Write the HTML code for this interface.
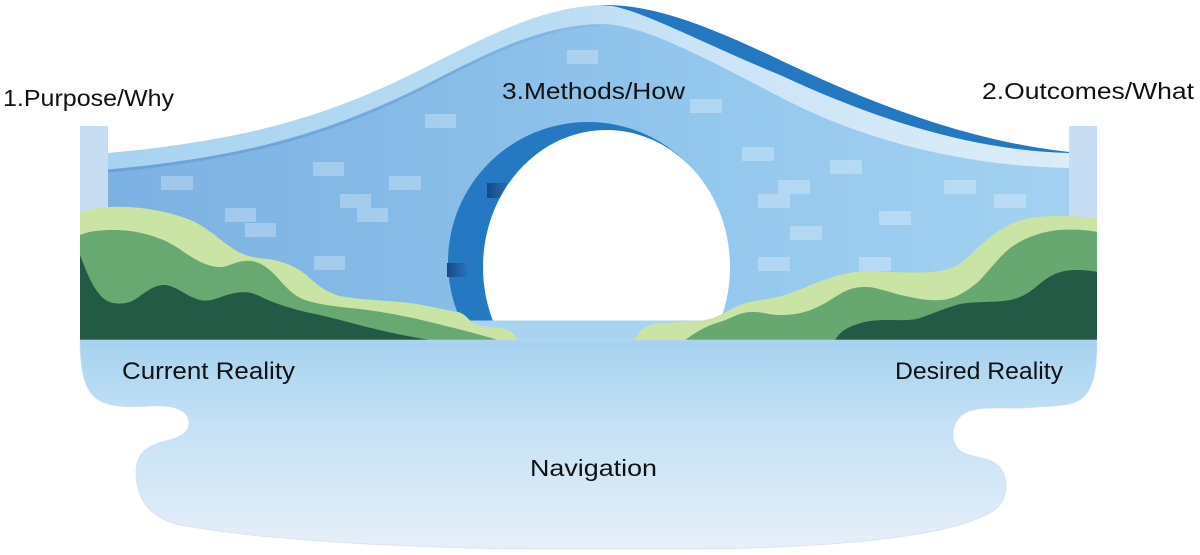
<!DOCTYPE html>
<html>
<head>
<meta charset="utf-8">
<style>
  html, body { margin: 0; padding: 0; background: #ffffff; }
  svg { display: block; }
  text { font-family: "Liberation Sans", "DejaVu Sans", sans-serif; fill: #111111; }
</style>
</head>
<body>
<svg width="1200" height="555" viewBox="0 0 1200 555" xmlns="http://www.w3.org/2000/svg">
  <defs>
    <linearGradient id="bodyG" x1="108" y1="0" x2="1069" y2="0" gradientUnits="userSpaceOnUse">
      <stop offset="0" stop-color="#7cb1e2"/>
      <stop offset="0.36" stop-color="#88bde8"/>
      <stop offset="0.62" stop-color="#94c7ed"/>
      <stop offset="1" stop-color="#a3d2f1"/>
    </linearGradient>
    <linearGradient id="bandG" x1="108" y1="0" x2="1069" y2="0" gradientUnits="userSpaceOnUse">
      <stop offset="0" stop-color="#a8d3f0"/>
      <stop offset="0.45" stop-color="#b9dcf4"/>
      <stop offset="0.6" stop-color="#c9e3f7"/>
      <stop offset="1" stop-color="#dcedf9"/>
    </linearGradient>
    <linearGradient id="lineG" x1="108" y1="0" x2="600" y2="0" gradientUnits="userSpaceOnUse">
      <stop offset="0" stop-color="#6a9fd8" stop-opacity="0.95"/>
      <stop offset="0.7" stop-color="#6a9fd8" stop-opacity="0.6"/>
      <stop offset="1" stop-color="#6a9fd8" stop-opacity="0.15"/>
    </linearGradient>
    <linearGradient id="lakeG" x1="0" y1="340" x2="0" y2="549" gradientUnits="userSpaceOnUse">
      <stop offset="0" stop-color="#a6d2f0"/>
      <stop offset="0.4" stop-color="#c4e1f5"/>
      <stop offset="1" stop-color="#e7eff9"/>
    </linearGradient>
    <linearGradient id="rectG" x1="0" y1="0" x2="1" y2="0">
      <stop offset="0" stop-color="#164888"/>
      <stop offset="1" stop-color="#2b74bb"/>
    </linearGradient>
    <clipPath id="aboveWater">
      <rect x="0" y="0" width="1200" height="321"/>
    </clipPath>
  </defs>

  <!-- Pillars -->
  <rect x="80" y="126" width="28" height="214" fill="#c7ddf3"/>
  <rect x="1069" y="126" width="28" height="214" fill="#c7ddf3"/>

  <!-- Bridge silhouette (light band) -->
  <path d="M108,153 C250,140 330,115 420,70 C490,35 540,8 600,5 C650,4 700,22 780,60 C860,98 960,140 1069,152 L1069,340 L108,340 Z" fill="url(#bandG)"/>

  <!-- Dark top band on the right -->
  <path d="M600,5 C650,4 700,22 780,60 C860,98 960,140 1069,152 L1069,153 C960,150 860,112 780,75 C700,42 645,12 612,6 Z" fill="#2478c2"/>

  <!-- Body -->
  <path d="M108,170 C250,157 330,132 420,88 C490,52 540,26 600,24 C640,24 690,50 780,97 C860,139 960,166 1069,168 L1069,340 L108,340 Z" fill="url(#bodyG)"/>

  <!-- Darker line under band (left) -->
  <path d="M108,171 C250,158 330,133 420,89 C490,53 540,27 600,25" fill="none" stroke="url(#lineG)" stroke-width="3"/>

  <!-- Bricks -->
  <g fill="#ffffff" fill-opacity="0.27">
    <rect x="567" y="50" width="31" height="14"/>
    <rect x="425" y="114" width="31" height="14"/>
    <rect x="690" y="99" width="32" height="14"/>
    <rect x="161" y="176" width="32" height="14"/>
    <rect x="313" y="162" width="31" height="14"/>
    <rect x="389" y="176" width="32" height="14"/>
    <rect x="340" y="194" width="31" height="14"/>
    <rect x="357" y="208" width="31" height="14"/>
    <rect x="225" y="208" width="31" height="14"/>
    <rect x="245" y="223" width="31" height="14"/>
    <rect x="314" y="256" width="31" height="14"/>
    <rect x="742" y="147" width="32" height="14"/>
    <rect x="830" y="160" width="32" height="14"/>
    <rect x="778" y="180" width="32" height="14"/>
    <rect x="758" y="194" width="32" height="14"/>
    <rect x="944" y="180" width="32" height="14"/>
    <rect x="994" y="194" width="32" height="14"/>
    <rect x="879" y="211" width="32" height="14"/>
    <rect x="790" y="226" width="32" height="14"/>
    <rect x="758" y="257" width="32" height="14"/>
    <rect x="859" y="257" width="32" height="14"/>
  </g>

  <!-- Arch -->
  <g clip-path="url(#aboveWater)">
    <ellipse cx="588" cy="262" rx="140" ry="140" fill="#2479c2"/>
    <rect x="487" y="183" width="24" height="15" fill="url(#rectG)"/>
    <rect x="447" y="263" width="21" height="14" fill="url(#rectG)"/>
    <ellipse cx="606.5" cy="267" rx="123.5" ry="137" fill="#ffffff"/>
  </g>

  <!-- Water strip under arch -->
  <rect x="108" y="320.5" width="961" height="20" fill="#a8d4f1"/>

  <!-- Left hills -->
  <path d="M80,212 C95,208 110,206 128,207 C150,208 175,213 195,222 C210,230 220,240 235,250 C245,256 255,258 268,259 C282,261 295,266 305,274 C315,283 325,292 340,296 C360,300 385,300 410,303 C430,306 445,310 458,312 C466,314 468,320 475,324 C485,328 498,327 506,329 C513,332 516,336 518,340 L80,340 Z" fill="#c9e4a4"/>
  <path d="M80,235 C90,231 100,230 115,230 C135,230 160,236 178,248 C192,258 205,266 218,267 C228,268 232,262 245,261 C258,260 266,266 276,276 C285,286 292,295 305,300 C320,305 340,307 360,309 C385,312 410,317 430,322 C450,327 475,333 498,340 L80,340 Z" fill="#68a972"/>
  <path d="M80,255 C86,270 92,288 103,298 C110,304 120,305 130,302 C140,298 148,287 162,285 C175,284 185,296 200,300 C212,303 222,295 235,293 C250,290 257,295 268,300 C285,307 300,311 320,315 C350,322 380,332 430,340 L80,340 Z" fill="#235a45"/>

  <!-- Right hills -->
  <path d="M634,340 C640,330 645,326 655,324 C670,322 690,322 705,320 C720,317 728,310 740,305 C752,300 765,300 778,297 C795,293 812,283 830,278 C845,273 858,271 872,271 C890,272 910,273 930,272 C948,271 958,266 967,258 C978,248 990,235 1005,227 C1020,219 1035,216 1055,216 C1075,216 1085,217 1097,218 L1097,340 Z" fill="#c9e4a4"/>
  <path d="M685,340 C695,333 705,326 720,322 C732,318 738,313 750,312 C760,311 768,315 780,315 C792,315 798,314 808,311 C820,307 830,300 840,294 C848,289 856,287 865,287 C878,287 890,293 905,296 C918,299 935,302 948,299 C960,296 968,290 978,282 C990,270 1000,255 1013,246 C1025,238 1040,232 1058,230 C1075,229 1088,230 1097,232 L1097,340 Z" fill="#66a870"/>
  <path d="M835,340 C840,332 846,328 855,325 C865,321 875,320 888,320 C900,320 910,321 920,318 C932,314 945,308 960,304 C975,301 995,303 1010,300 C1025,297 1032,290 1042,282 C1052,274 1062,270 1075,270 C1085,270 1092,271 1097,272 L1097,340 Z" fill="#235a45"/>

  <!-- Lake -->
  <path d="M80,340 L1097,340 C1097,370 1094,392 1078,401 C1065,407 1045,406 1025,408 C1000,409 975,405 962,415 C950,425 950,445 962,452 C975,459 995,456 1003,472 C1010,488 1005,505 990,513 C950,535 850,548 690,549 L535,549 C400,548 260,540 180,525 C150,518 137,500 136,475 C135,455 145,446 165,441 C185,437 192,428 188,418 C184,408 170,405 150,406 C125,408 100,407 90,392 C82,380 80,360 80,340 Z" fill="url(#lakeG)" stroke="#cfdae6" stroke-width="0.8" stroke-opacity="0.7"/>

  <!-- Labels -->
  <text x="3" y="106" font-size="23" textLength="171" lengthAdjust="spacingAndGlyphs">1.Purpose/Why</text>
  <text x="502" y="99" font-size="23" textLength="183" lengthAdjust="spacingAndGlyphs">3.Methods/How</text>
  <text x="982" y="99" font-size="23" textLength="212" lengthAdjust="spacingAndGlyphs">2.Outcomes/What</text>
  <text x="122" y="379" font-size="24" textLength="173" lengthAdjust="spacingAndGlyphs">Current Reality</text>
  <text x="895" y="379" font-size="24" textLength="168" lengthAdjust="spacingAndGlyphs">Desired Reality</text>
  <text x="530" y="476" font-size="23" textLength="127" lengthAdjust="spacingAndGlyphs">Navigation</text>
</svg>
</body>
</html>
